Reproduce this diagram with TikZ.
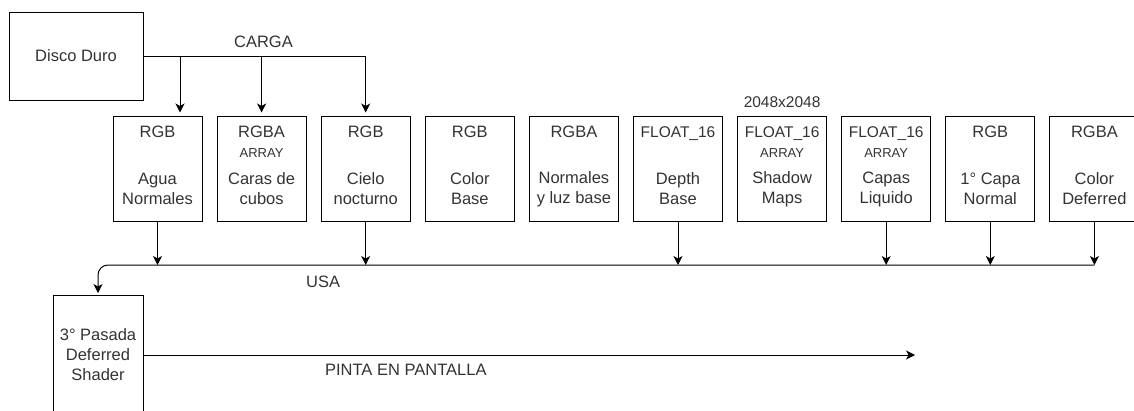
\documentclass[tikz,border=0pt]{standalone}
\usepackage{fontspec}
\setmainfont{Liberation Sans}
\usepackage{xcolor}
\usetikzlibrary{arrows.meta,positioning}
\definecolor{pipetext}{RGB}{51,51,51}
\definecolor{pipeline}{RGB}{0,0,0}
\newcommand{\fltfont}{\fontsize{15.5}{18}\selectfont}
\newcommand{\arrfont}{\fontsize{13}{15}\selectfont}

\tikzset{
  texbox/.style={draw=pipeline, line width=1pt, minimum width=89pt, minimum height=105pt, inner sep=0pt},
  fmtlabel/.style={text=pipetext, anchor=base, inner sep=0pt, font=\fontsize{16.5}{20}\selectfont},
  mainlabel/.style={text=pipetext, align=center, inner sep=0pt, font=\fontsize{16.5}{20}\selectfont},
  flowarrow/.style={draw=pipeline, line width=1pt, -{Stealth[length=9pt,width=9pt,inset=2.5pt]}},
  flowlabel/.style={text=pipetext, inner sep=0pt, font=\fontsize{16.5}{20}\selectfont},
}

\begin{document}
\begin{tikzpicture}[x=1pt,y=-1pt]
  \useasboundingbox (0,0) rectangle (1134,410);
  \node[texbox, mainlabel, minimum width=134pt, minimum height=88pt] (disco) at (76,56) {Disco Duro};
  \node[texbox, mainlabel, minimum width=90pt, minimum height=120pt] (pasada) at (98,355) {3° Pasada\\Deferred\\Shader};
  % texturas
  \foreach \i/\fmt/\txt in {0/RGB/{Agua\\Normales}, 1/RGBA/{Caras de\\cubos}, 2/RGB/{Cielo\\nocturno},
      3/RGB/{Color\\Base}, 4/RGBA/{Normales\\y luz base}, 5/{\fltfont FLOAT\_16}/{Depth\\Base},
      6/{\fltfont FLOAT\_16}/{Shadow\\Maps}, 7/{\fltfont FLOAT\_16}/{Capas\\Liquido},
      8/RGB/{1° Capa\\Normal}, 9/RGBA/{Color\\Deferred}} {
    \node[texbox] (b\i) at (157.5+104.1*\i,168.5) {};
    \node[fmtlabel] (f\i) at ([yshift=-22pt]b\i.north) {\fmt};
    \node[mainlabel] (m\i) at ([yshift=-20.5pt]b\i.center) {\txt};
  }
  \foreach \i in {1,6,7}
    \node[fmtlabel, font=\arrfont] (a\i) at ([yshift=-42pt]b\i.north) {ARRAY};
  \node[flowlabel, font=\fltfont, above=8pt of b6.north] (res) {2048x2048};
  % carga
  \coordinate (c0) at ([xshift=22.5pt]b0.north);
  \draw[flowarrow, shorten >=3pt] (disco.east) -| (c0);
  \draw[flowarrow, shorten >=3pt] (disco.east) -| (b1.north);
  \draw[flowarrow, shorten >=3pt] (disco.east) -| node[pos=0.27, flowlabel, above=8pt] (carga) {CARGA} (b2.north);
  % usa
  \coordinate (busy) at (0,265);
  \foreach \i in {0,2,5,7,8,9}
    \draw[flowarrow] (b\i.south) -- (b\i.south |- busy);
  \draw[flowarrow, rounded corners=10pt, shorten >=1.5pt] (b9.south |- busy) -- node[pos=0.774, flowlabel, below=10pt] (usa) {USA} (pasada.north |- busy) -- (pasada.north);
  % pantalla
  \coordinate (screen) at (915,355);
  \draw[flowarrow] (pasada.east) -- node[pos=0.34, flowlabel, below=9pt] (pinta) {PINTA EN PANTALLA} (screen);
\end{tikzpicture}
\end{document}
